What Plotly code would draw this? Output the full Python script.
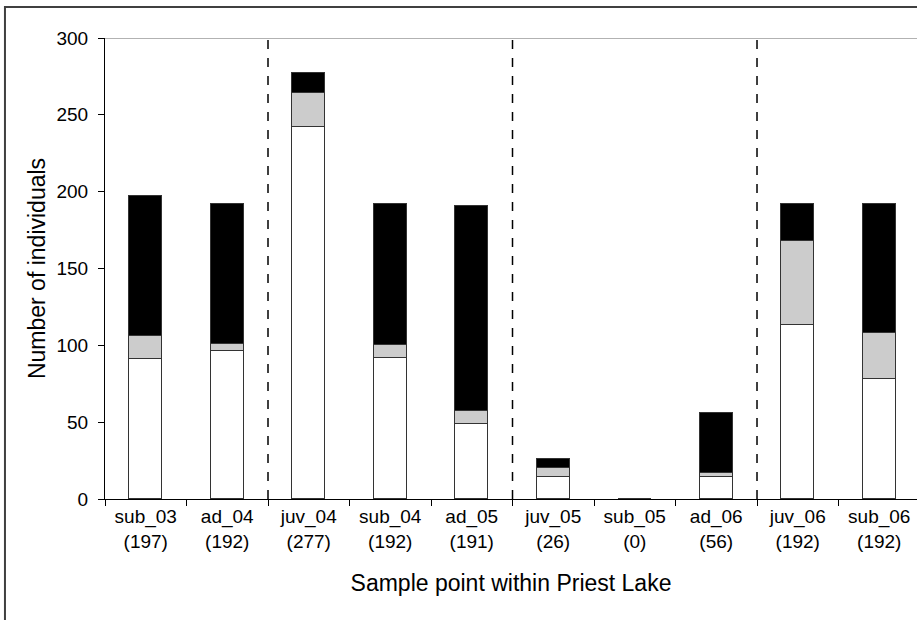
import plotly.graph_objects as go

categories = ["sub_03", "ad_04", "juv_04", "sub_04", "ad_05",
              "juv_05", "sub_05", "ad_06", "juv_06", "sub_06"]
sample_sizes = [197, 192, 277, 192, 191, 26, 0, 56, 192, 192]
cohort = [1, 1, 2, 2, 2, 3, 3, 3, 4, 4]

white_vals = [91, 96, 242, 92, 49, 14, 0, 14, 113, 78]
gray_vals = [15, 5, 22, 8, 8, 6, 0, 3, 55, 30]
black_vals = [91, 91, 13, 92, 134, 6, 0, 39, 24, 84]

y_ticks = [0, 50, 100, 150, 200, 250, 300]

labels = [f"{c}<br>({n})" for c, n in zip(categories, sample_sizes)]

FONT = "Liberation Sans, Arial, sans-serif"
fig = go.Figure()
for vals, col in [(white_vals, "#FFFFFF"), (gray_vals, "#CCCCCC"), (black_vals, "#000000")]:
    fig.add_trace(go.Bar(
        x=labels, y=vals, marker=dict(color=col, line=dict(color="#333333", width=1)),
        width=0.405, showlegend=False, hoverinfo="y"))

shapes = []
# group separators where cohort changes
for i in range(1, len(cohort)):
    if cohort[i] != cohort[i - 1]:
        shapes.append(dict(type="line", xref="x", yref="y", x0=i - 0.5, x1=i - 0.5,
                           y0=0, y1=300, line=dict(color="black", width=1.5, dash="dash")))
# plot area top border
shapes.append(dict(type="line", xref="paper", yref="y", x0=0, x1=1, y0=300, y1=300,
                   line=dict(color="#999999", width=1.5)))
# outer chart border
shapes.append(dict(type="rect", xref="paper", yref="paper",
                   x0=-0.1232, x1=1.05, y0=-0.30, y1=1.0672,
                   line=dict(color="#404040", width=2), fillcolor="rgba(0,0,0,0)", layer="below"))

fig.update_layout(
    width=917, height=620,
    margin=dict(l=105, r=0, t=38, b=121),
    paper_bgcolor="white", plot_bgcolor="white",
    barmode="stack", bargap=0,
    font=dict(family=FONT, size=19, color="#000000"),
    shapes=shapes,
    xaxis=dict(type="category", range=[-0.5, 9.463], tickson="boundaries",
               ticks="outside", ticklen=6, tickcolor="black", showline=True,
               linecolor="black", linewidth=1, showgrid=False,
               title=dict(text="Sample point within Priest Lake", standoff=24),
               tickfont=dict(size=19)),
    yaxis=dict(range=[0, 300], tickvals=y_ticks, ticks="outside", ticklen=6,
               tickcolor="black", showline=True, linecolor="black", linewidth=1,
               showgrid=False, zeroline=False, ticklabelstandoff=6,
               title=dict(text="Number of individuals", standoff=4),
               tickfont=dict(size=19)),
)

fig.write_html("out.html", config={"displayModeBar": False},
               post_script="document.body.style.margin='0';")
